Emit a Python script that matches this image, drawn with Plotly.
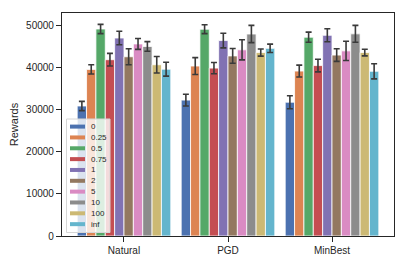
import plotly.graph_objects as go

groups = ["Natural", "PGD", "MinBest"]
series = ["0", "0.25", "0.5", "0.75", "1", "2", "5", "10", "100", "inf"]
colors = ["#4C72B0", "#DD8452", "#55A868", "#C44E52", "#8172B3",
          "#937860", "#DA8BC3", "#8C8C8C", "#CCB974", "#64B5CD"]

# values per series: [Natural, PGD, MinBest]
vals = {
    "0":    [30900, 32300, 31800],
    "0.25": [39600, 40400, 39200],
    "0.5":  [49200, 49150, 47250],
    "0.75": [41900, 39900, 40500],
    "1":    [47050, 46450, 47700],
    "2":    [42600, 42800, 43000],
    "5":    [45650, 44250, 44000],
    "10":   [45050, 48000, 48050],
    "100":  [40700, 43600, 43600],
    "inf":  [39650, 44600, 39150],
}
errs = {
    "0":    [1100, 1400, 1550],
    "0.25": [1100, 2000, 1400],
    "0.5":  [1100, 1050, 1200],
    "0.75": [1500, 1350, 1500],
    "1":    [1600, 1750, 1550],
    "2":    [1900, 1750, 1500],
    "5":    [1300, 2400, 2300],
    "10":   [1150, 2050, 2000],
    "100":  [1950, 850, 800],
    "inf":  [1650, 1000, 1800],
}
yticks = [0, 10000, 20000, 30000, 40000, 50000]

# page body has an 8px default margin; compensate so the plot area lands
# at page x 62..394, y 13..236
OFF = 8
PL, PT, PW, PH = 62, 13, 332, 223
W, H = 415 - OFF, 277 - OFF
ML, MT = PL - OFF, PT - OFF
MR, MB = W - ML - PW, H - MT - PH

fig = go.Figure()
for s, c in zip(series, colors):
    fig.add_trace(go.Bar(
        x=groups, y=vals[s], name=s,
        marker=dict(color=c, line=dict(color="white", width=0.8)),
        error_y=dict(type="data", array=errs[s], color="#3a3a3a",
                     thickness=1.6, width=3),
        showlegend=False,
    ))

# legend drawn as shapes + text (compact, matplotlib-style), page coords
def px_x(p):
    return (p - PL) / PW

def px_y(p):
    return (PT + PH - p) / PH

shapes = [dict(type="rect", xref="paper", yref="paper",
               x0=px_x(66.5), x1=px_x(110), y0=px_y(232.5), y1=px_y(119),
               fillcolor="rgba(255,255,255,0.8)",
               line=dict(color="#d6d6d6", width=1), layer="above")]
annotations = []
for i, (s, c) in enumerate(zip(series, colors)):
    cy = 126.6 + i * 10.84
    shapes.append(dict(type="rect", xref="paper", yref="paper",
                       x0=px_x(70), x1=px_x(85), y0=px_y(cy + 2), y1=px_y(cy - 2),
                       fillcolor=c, line=dict(width=0), layer="above"))
    annotations.append(dict(xref="paper", yref="paper", x=px_x(89), y=px_y(cy),
                            xanchor="left", yanchor="middle", text=s,
                            showarrow=False, font=dict(size=8, color="#262626")))

fig.update_layout(
    width=W, height=H,
    margin=dict(l=ML, r=MR, t=MT, b=MB),
    paper_bgcolor="white", plot_bgcolor="white",
    barmode="group", bargap=0.1, bargroupgap=0,
    font=dict(family="Liberation Sans, Arial, sans-serif", size=10, color="#262626"),
    showlegend=False,
    shapes=shapes, annotations=annotations,
    xaxis=dict(range=[-0.596, 2.596], showline=True, linecolor="#262626",
               linewidth=1.2, mirror=True, ticks="outside", ticklen=5,
               tickcolor="#262626", showgrid=False, tickfont=dict(size=10),
               automargin=False),
    yaxis=dict(range=[0, 53000], tickvals=yticks,
               ticktext=[str(t) for t in yticks],
               showline=True, linecolor="#262626", linewidth=1.2, mirror=True,
               ticks="outside", ticklen=5, tickcolor="#262626", showgrid=False,
               zeroline=False, tickfont=dict(size=10), automargin=False,
               title=dict(text="Rewards", font=dict(size=11), standoff=8)),
)

fig.write_html("out.html")
